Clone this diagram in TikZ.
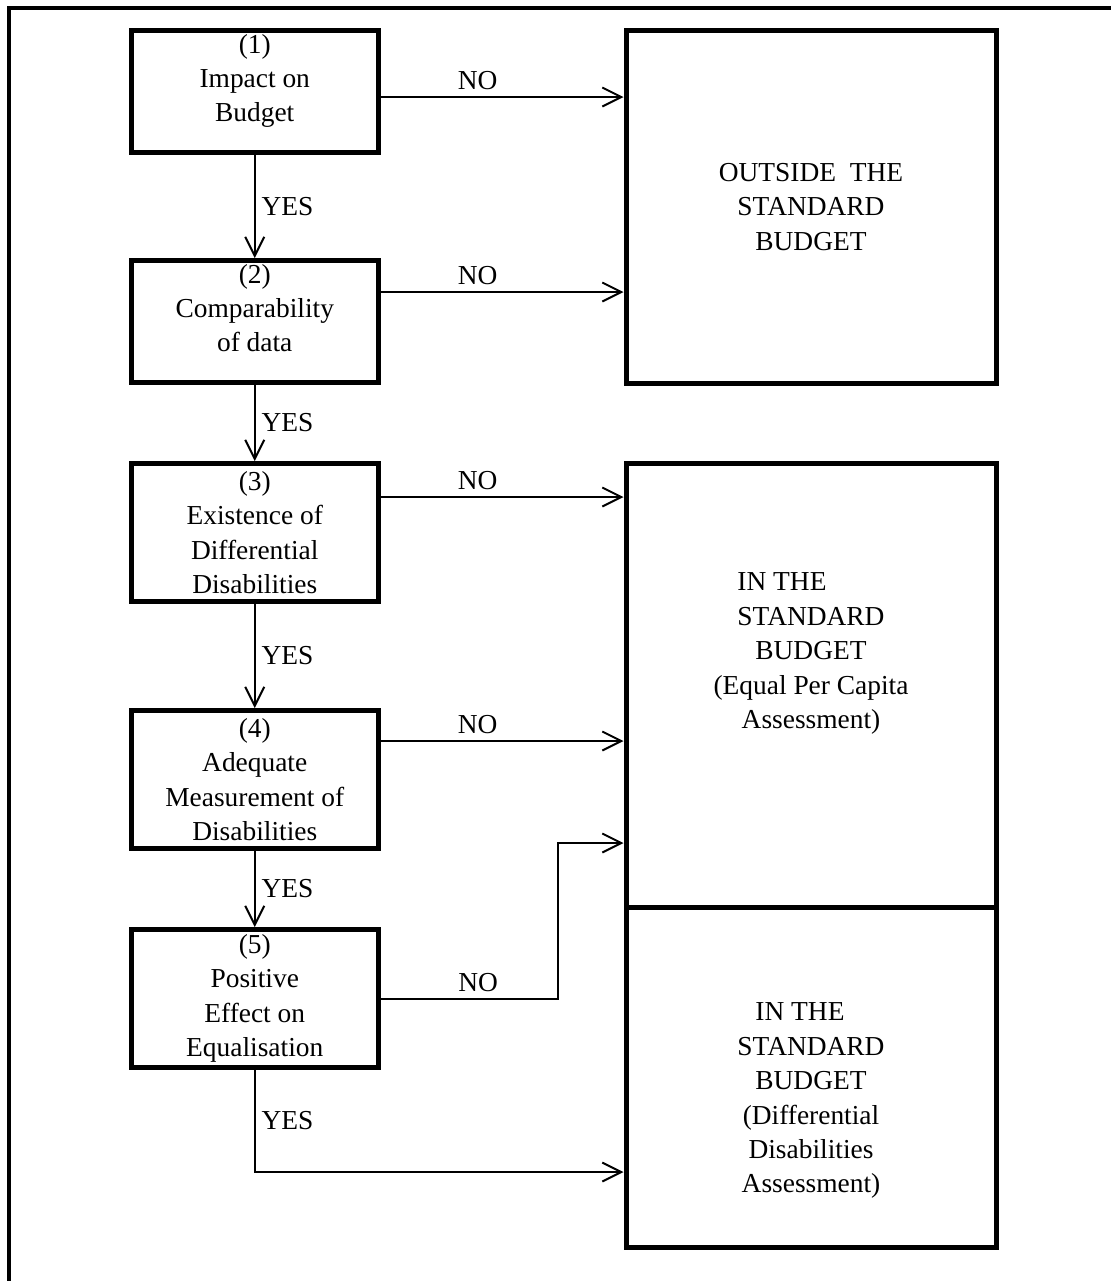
\documentclass[tikz,border=0pt]{standalone}
\usepackage{fontspec}
\setmainfont{Liberation Serif}
\usepackage{tikz}
\usetikzlibrary{positioning,arrows.meta}

\begin{document}
\begin{tikzpicture}[thick, font=\fontsize{15.6}{19.6}\selectfont,
    decision/.style={draw, rectangle, line width=0.1cm, minimum width=4.93cm, inner sep=0pt, text centered, align=center},
    outcome/.style={draw, rectangle, line width=0.1cm, minimum width=7.4cm, inner sep=0pt, text centered, align=center},
    arr/.style={-{Straight Barb[length=0.38cm, width=0.38cm]}, line width=0.04cm}]

    \useasboundingbox (0,0) rectangle (22.22,-25.62);

    % outer frame
    \draw[line width=0.08cm] (0.18,-26) -- (0.18,-0.16) -- (22.6,-0.16);

    \node[decision, minimum height=2.44cm] (b1) at (5.095,-1.83)
    { (1)\\Impact on\\Budget\\[-0.15cm]\mbox{} };

    \node[decision, minimum height=2.44cm, below=2.06cm of b1] (b2)
    { (2)\\Comparability\\of data\\[-0.15cm]\mbox{} };

    \node[decision, minimum height=2.76cm, below=1.52cm of b2] (b3)
    { (3)\\Existence of\\Differential\\Disabilities };

    \node[decision, minimum height=2.76cm, below=2.08cm of b3] (b4)
    { (4)\\Adequate\\Measurement of\\Disabilities };

    \node[decision, minimum height=2.76cm, below=1.52cm of b4] (b5)
    { (5)\\Positive\\Effect on\\Equalisation };

    % ---------------------------------------------------------

    \node[outcome, minimum height=7.06cm, right=4.86cm of b1.north east, anchor=north west] (outside)
    { OUTSIDE\ \ THE\\STANDARD\\BUDGET };

    \node[outcome, minimum height=8.87cm, right=4.86cm of b3.north east, anchor=north west] (equal) {};

    \node[outcome, minimum height=6.81cm, below=-0.1cm of equal] (diff) {};

    \node[align=center] (equaltxt) at ([yshift=0.63cm]equal.center)
    { \rlap{IN THE}\hphantom{STANDARD}\\STANDARD\\BUDGET\\(Equal Per Capita\\Assessment) };

    \node[align=center] (difftxt) at ([yshift=-0.47cm]diff.center)
    { \hphantom{STANDARD}\llap{IN THE\hspace{0.8cm}}\\STANDARD\\BUDGET\\(Differential\\Disabilities\\Assessment) };

    \coordinate (no1) at ([yshift=-0.11cm]b1.east);
    \coordinate (no2) at ([yshift=0.59cm]b2.east);
    \coordinate (no3) at ([yshift=0.71cm]b3.east);
    \coordinate (no4) at ([yshift=0.77cm]b4.east);

    \path[arr]
    {
        (b1) edge node[right] {YES} (b2)
        (b2) edge node[right] {YES} (b3)
        (b3) edge node[right] {YES} (b4)
        (b4) edge node[right] {YES} (b5)

        (no1) edge node[above, pos=0.4] {NO} (no1 -| outside.west)
        (no2) edge node[above, pos=0.4] {NO} (no2 -| outside.west)
        (no3) edge node[above, pos=0.4] {NO} (no3 -| equal.west)
        (no4) edge node[above, pos=0.4] {NO} (no4 -| equal.west)
    };

    \draw[arr] (b5.east) -- node[above, pos=0.55] {NO} ++(3.55,0) |- ([yshift=-3.155cm]equal.west);
    \draw[arr] (b5.south) |- node[right, pos=0.25] {YES} ([yshift=-1.895cm]diff.west);
\end{tikzpicture}
\end{document}
